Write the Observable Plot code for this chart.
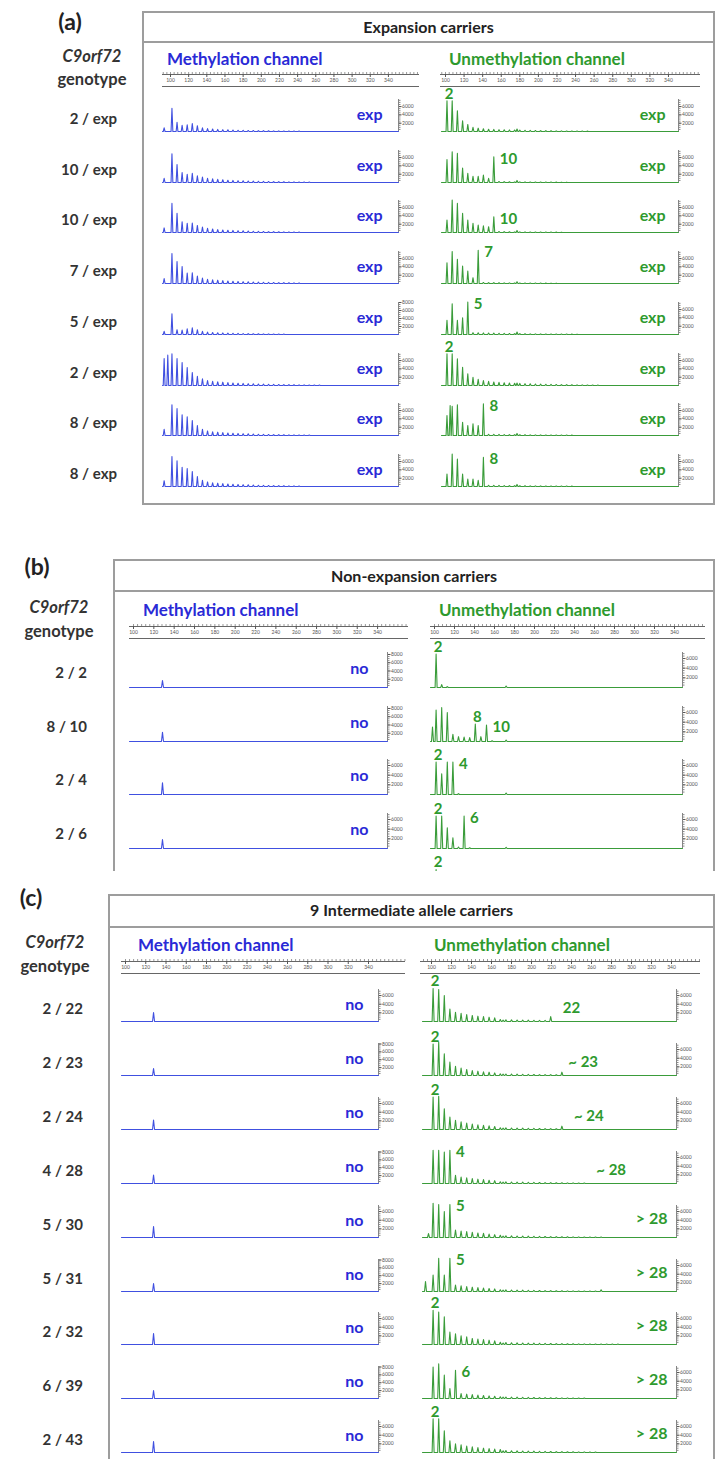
<!DOCTYPE html>
<html><head><meta charset="utf-8">
<script src="https://cdn.jsdelivr.net/npm/d3@7"></script>
<script src="https://cdn.jsdelivr.net/npm/@observablehq/plot@0.6"></script>
<style>
body{margin:0;background:#fff;}
#page{position:relative;width:717px;height:1459px;overflow:hidden;background:#fff;font-family:Lato,"Open Sans",sans-serif;}
.abs{position:absolute;white-space:nowrap;line-height:1;}
.pnl{position:absolute;left:0;width:717px;overflow:hidden;}
</style></head><body><div id="page"></div>
<script>
// ---------- shared categories / ticks ----------
const repeatBp = [101.6,107.2,112.8,118.4,124.0,129.6,135.2,140.8,146.4,152.0,157.6,163.2,168.8,174.4,180.0,185.6,191.2,196.8,202.4,208.0,213.6,219.2,224.8,230.4,236.0,241.6,247.2,252.8,258.4,264.0,269.6,275.2,280.8,286.4,292.0,297.6,303.2,308.8,314.4,320.0,325.6,331.2,336.8,342.4,348.0];
const rulerTicks = [100,120,140,160,180,200,220,240,260,280,300,320,340];
const yTicks3 = [2000,4000,6000];
const yTicks4 = [2000,4000,6000,8000];

// ---------- panel (a) ----------
const genotypesA = ["2 / exp","10 / exp","10 / exp","7 / exp","5 / exp","2 / exp","8 / exp","8 / exp"];
const methA = [
 [5600,2200,1500,1600,1900,1400,900,700,600,500,450,400,350,300,300,250,250,200,200,180,160,150,130,120,100,100],
 [6900,4300,2400,2000,2200,1600,1300,1000,900,750,650,550,500,450,400,350,320,300,280,250,230,200,180,160,150,130,120,100],
 [7000,4600,2600,2200,2300,1700,1300,1000,850,700,600,550,500,450,400,350,300,280,250,230,200,180,160,150,130,120],
 [7200,5300,4100,2500,2600,1800,1300,1000,900,800,700,600,550,500,450,400,350,320,300,280,250,220,200,180,160,150],
 [5200,1200,1100,1400,1700,1200,800,600,500,450,400,350,300,280,250,230,200,180,160,150,130,120,100],
 [7600,6500,5500,4300,3100,2200,1600,1200,1000,900,800,700,600,550,500,450,400,350,320,300,280,250,220,200,180,160,150,130,120,100],
 [7400,6500,5000,4500,3600,2400,1500,1100,900,800,700,600,550,500,450,400,350,300,280,250,230,200,180,160,150,130,120,100],
 [7200,6200,4600,4300,3600,2400,1500,1100,900,800,700,600,550,500,450,400,350,300,280,250,230,200,180,160,150,130]
];
const methExtraA = [[[93,900]],[[93,1000]],[[93,1100]],[[93,1200]],[[93,800]],[[93,6500],[97,7300]],[[93,1500]],[[93,1400]]];
const methTicksA = [3,3,3,3,4,3,3,3];
const methCallA = ["exp","exp","exp","exp","exp","exp","exp","exp"];
const unmethA = [
 [7400,7400,5000,2600,1700,1000,800,650,550,500,450,400,380,350,320,300,280,250,230,200,180,160,150,130,120,100,100,90],
 [5500,7400,7000,3500,2200,1500,1500,1800,1000,6200,250,200,180,160,150,140,130,120,110,100,100,90,80,80],
 [3000,7800,7000,4600,3000,2200,1800,1600,1400,3800,250,200,180,160,150,140,130,120,110,100,100,90,80],
 [5000,7700,5800,4200,3000,1400,8000,250,220,200,180,160,150,140,130,120,110,100,100,90,80,80],
 [3400,7400,3400,4000,7800,450,400,380,350,320,300,280,250,230,200,180,160,150,140,130,120,110,100,100,90,80],
 [7600,7600,6400,4400,2800,2000,1500,1200,1000,850,750,650,600,550,500,450,400,350,320,300,280,250,220,200,180,160,150,130,120,100],
 [4800,7000,7400,3200,2400,2800,2400,7600,300,280,260,240,220,200,180,170,160,150,140,130,120,110,100,100,90],
 [3000,7800,6600,3000,1800,1800,1500,7000,300,280,260,240,220,200,180,170,160,150,140,130,120,110,100,100,90]
];
const unmethExtraA = [[[177,600]],[[177,500]],[[177,500]],[[177,450]],[[177,600]],[[177,600]],[[105,7200],[177,500]],[[177,500]]];
const unmethTicksA = [3,3,3,3,3,3,3,3];
const unmethCallA = ["exp","exp","exp","exp","exp","exp","exp","exp"];
const unmethLabelsA = [
 [{t:"2",n:1,s:"top"}],
 [{t:"10",n:10,s:"side"}],
 [{t:"10",n:10,s:"side"}],
 [{t:"7",n:7,s:"side"}],
 [{t:"5",n:5,s:"side"}],
 [{t:"2",n:1,s:"top"}],
 [{t:"8",n:8,s:"side"}],
 [{t:"8",n:8,s:"side"}]
];

// ---------- panel (b) ----------
const genotypesB = ["2 / 2","8 / 10","2 / 4","2 / 6"];
const methB = [[],[],[],[]];
const methExtraB = [[[128.5,1700]],[[128.5,2200]],[[128.5,2400]],[[128.5,1860]]];
const methTicksB = [4,4,3,3];
const methCallB = ["no","no","no","no"];
const unmethB = [
 [6900,600,200],
 [6500,7000,6000,1500,1000,900,800,3600,1000,3400,150],
 [6700,4300,6700,6700,200],
 [6700,6700,4300,2200,300,6700,150],
 [6800]
];
const unmethExtraB = [[[171.6,300]],[[98,3000],[171.6,300]],[[171.6,300]],[[171.6,250]],[]];
const unmethTicksB = [3,3,3,3,0];
const unmethCallB = [null,null,null,null,null];
const unmethLabelsB = [
 [{t:"2",n:1,s:"top"}],
 [{t:"8",n:8,s:"top"},{t:"10",n:10,s:"side"}],
 [{t:"2",n:1,s:"top"},{t:"4",n:4,s:"side"}],
 [{t:"2",n:1,s:"top"},{t:"6",n:6,s:"side"}],
 [{t:"2",n:1,s:"top"}]
];

// ---------- panel (c) ----------
const genotypesC = ["2 / 22","2 / 23","2 / 24","4 / 28","5 / 30","5 / 31","2 / 32","6 / 39","2 / 43"];
const methC = [[],[],[],[],[],[],[],[],[]];
const methExtraC = [[[127.7,2070]],[[127.7,1780]],[[127.7,2200]],[[127.7,2160]],[[127.7,2530]],[[127.7,2030]],[[127.7,2530]],[[127.7,2030]],[[127.7,2530]]];
const methTicksC = [3,4,3,4,3,4,3,4,3];
const methCallC = ["no","no","no","no","no","no","no","no","no"];
const unmethC = [
 [7600,7400,6000,2900,2150,1900,1600,1400,1230,1150,1000,850,450,400,380,350,320,300,280,260,250,1150],
 [7300,7700,5000,3100,2100,1700,1400,1150,1000,850,770,600,380,350,330,300,280,260,240,220,200,200,180,770],
 [7500,7700,4800,2900,2150,1800,1500,1250,1100,950,850,700,400,380,350,320,300,280,260,240,220,200,180,770],
 [7700,7700,7300,7700,1900,1500,1300,1150,1000,900,750,650,400,380,350,320,300,280,260,240,220,200,180,160,150,140,130,120],
 [7900,7600,6000,7600,1700,1500,1350,1200,1050,950,800,650,500,400,380,350,320,300,280,260,240,220,200,180,160,150,140,130,120,110,100],
 [3800,7700,3800,7700,1500,1300,1150,1000,900,800,700,600,400,380,350,320,300,280,260,240,220,200,180,160,150,140,130,120,110,100,400],
 [7900,7500,6400,2900,2500,2000,1800,1400,1250,1150,1000,850,500,450,400,380,350,320,300,280,260,240,220,200,180,160,150,140,130,120,110,100,100,90],
 [7300,8000,5400,2300,6500,1150,1000,900,800,700,600,500,400,350,320,300,280,260,240,220,200,180,160,150,140,130,120,110],
 [7800,7800,5000,2700,2000,1800,1500,1300,1150,1000,900,800,700,450,400,380,350,320,300,280,260,240,220,200,180,160,150,140,130,120]
];
const unmethExtraC = [[[171.6,300]],[[171.6,300]],[[171.6,300]],[[171.6,300]],[[97,900],[171.6,300]],[[94,2300],[171.6,300]],[[171.6,350]],[[171.6,300]],[[171.6,400]]];
const unmethTicksC = [3,3,3,3,3,3,3,3,3];
const unmethCallC = [null,null,null,null,"> 28","> 28","> 28","> 28","> 28"];
const unmethLabelsC = [
 [{t:"2",n:1,s:"top"},{t:"22",n:22,s:"size"}],
 [{t:"2",n:1,s:"top"},{t:"~ 23",n:23,s:"size"}],
 [{t:"2",n:1,s:"top"},{t:"~ 24",n:24,s:"size"}],
 [{t:"4",n:4,s:"side"},{t:"~ 28",n:28,s:"size"}],
 [{t:"5",n:4,s:"side"}],
 [{t:"5",n:4,s:"side"}],
 [{t:"2",n:1,s:"top"}],
 [{t:"6",n:5,s:"side"}],
 [{t:"2",n:1,s:"top"}]
];

// ---------- styling / layout ----------
const BLUE_T = "#2a2ad6", BLUE_L = "#4050e0", GREEN_T = "#2e9a2e", GREEN_L = "#3a9c3a";
const FONT = "Lato, 'Open Sans', sans-serif";
const rulerMinor = d3.range(92, 380, 4);

const panels = [
 {label:"(a)", labelX:70, labelY:22, top:0, height:530,
  box:{left:142, top:11, right:715, bottom:505, open:false}, divider:42,
  header:"Expansion carriers", headerY:27,
  genoX:92, genoY1:57, genoY2:80, rowRight:117, rowDy:-12, base0:131, step:50.7,
  titleY:59, rulerY:74, genotypes: genotypesA,
  meth:{titleX:167, x100:170, k:0.908, x0:162, x1:398, r0:162, r1:419, H:32, ymax3:7700, ymax4:8000, callDx:-16, callDy:-12,
        heights:methA, extra:methExtraA, ticks:methTicksA, calls:methCallA, labels:null},
  unmeth:{titleX:449, x100:445, k:0.929, x0:441, x1:678, r0:440, r1:700, H:32, ymax3:7700, ymax4:8000, callDx:-13, callDy:-12,
        heights:unmethA, extra:unmethExtraA, ticks:unmethTicksA, calls:unmethCallA, labels:unmethLabelsA}},
 {label:"(b)", labelX:37, labelY:567, top:540, height:331,
  box:{left:113, top:559, right:715, bottom:920, open:true}, divider:591,
  header:"Non-expansion carriers", headerY:576,
  genoX:59, genoY1:608, genoY2:632, rowRight:87, rowDy:-14, base0:687, step:53.7,
  titleY:610, rulerY:626, genotypes: genotypesB,
  meth:{titleX:143, x100:133, k:1.017, x0:129, x1:387, r0:129, r1:408, H:35, ymax3:7240, ymax4:8480, callDx:-19, callDy:-14,
        heights:methB, extra:methExtraB, ticks:methTicksB, calls:methCallB, labels:null},
  unmeth:{titleX:439, x100:434, k:1.0, x0:430, x1:682, r0:430, r1:705, H:35, ymax3:7240, ymax4:8480, callDx:-13, callDy:-14,
        heights:unmethB, extra:unmethExtraB, ticks:unmethTicksB, calls:unmethCallB, labels:unmethLabelsB}},
 {label:"(c)", labelX:31, labelY:898, top:876, height:583,
  box:{left:108, top:894, right:715, bottom:1520, open:true}, divider:927,
  header:"9 Intermediate allele carriers", headerY:910,
  genoX:55, genoY1:943, genoY2:967, rowRight:83, rowDy:-12, base0:1021, step:53.9,
  titleY:945, rulerY:961, genotypes: genotypesC,
  meth:{titleX:138, x100:125, k:1.0125, x0:121, x1:378, r0:121, r1:405, H:32, ymax3:7400, ymax4:8130, callDx:-15, callDy:-12,
        heights:methC, extra:methExtraC, ticks:methTicksC, calls:methCallC, labels:null},
  unmeth:{titleX:434, x100:431, k:1.0, x0:422, x1:676, r0:420, r1:700, H:32, ymax3:7400, ymax4:8130, callDx:-9, callDy:-14,
        heights:unmethC, extra:unmethExtraC, ticks:unmethTicksC, calls:unmethCallC, labels:unmethLabelsC}}
];

const page = document.getElementById("page");

function txt(parent, s, x, y, o) {
  const d = document.createElement("div");
  d.className = "abs";
  d.textContent = s;
  const tx = o.anchor === "end" ? "-100%" : o.anchor === "start" ? "0" : "-50%";
  Object.assign(d.style, {left: x + "px", top: y + "px", fontSize: o.size + "px",
    fontWeight: o.weight || "bold", color: o.color || "#333", fontStyle: o.italic ? "italic" : "normal",
    fontFamily: FONT, transform: `translate(${tx},-52%)`});
  parent.appendChild(d);
}
function rect(parent, l, t, w, h, css) {
  const d = document.createElement("div");
  Object.assign(d.style, {position: "absolute", left: l + "px", top: t + "px", width: w + "px", height: h + "px", boxSizing: "border-box"}, css);
  parent.appendChild(d);
}
function placeSvg(parent, svg, l, t, w, h) {
  const d = document.createElement("div");
  Object.assign(d.style, {position: "absolute", left: l + "px", top: t + "px", width: w + "px", height: h + "px"});
  d.appendChild(svg);
  parent.appendChild(d);
}
const svgStyle = {maxWidth: "none", background: "transparent", overflow: "visible", fontFamily: FONT};

function drawRuler(host, cfg, yTop) {
  const bp = px => 100 + (px - cfg.x100) / cfg.k;
  const r0 = bp(cfg.r0), r1 = bp(cfg.r1);
  const width = Math.round(cfg.r1 - cfg.r0);
  const svg = Plot.plot({
    width, height: 17, marginTop: 1, marginBottom: 14, marginLeft: 0, marginRight: 0,
    x: {domain: [r0, r1]},
    y: {domain: [0, 1], axis: null},
    style: svgStyle,
    marks: [
      Plot.tickX(rulerMinor.filter(v => v > r0 && v < r1), {x: d => d, stroke: "#555", strokeWidth: 0.6}),
      Plot.ruleY([0], {stroke: "#555", strokeWidth: 0.9}),
      Plot.axisX({anchor: "bottom", ticks: rulerTicks, tickSize: 3, tickPadding: 1, fontSize: 5, stroke: "#555", fill: "#555", label: null}),
      Plot.ruleY([0], {dy: 12, stroke: "#555", strokeWidth: 0.9})
    ]
  });
  placeSvg(host, svg, cfg.r0, yTop - 3, width, 17);
}

function drawTrace(host, cfg, i, base, color, textColor) {
  const heights = cfg.heights[i], extra = cfg.extra[i];
  const bp = px => 100 + (px - cfg.x100) / cfg.k;
  const d0 = bp(cfg.x0), d1 = bp(cfg.x1);
  const mt = 24, mb = 3, ml = 2, mr = 22;
  const width = Math.round(cfg.x1 - cfg.x0) + ml + mr;
  const height = cfg.H + mt + mb;
  const nt = cfg.ticks[i];
  const ymax = nt === 4 ? cfg.ymax4 : cfg.ymax3;
  const peaks = heights.map((h, j) => ({bp: repeatBp[j], h}))
    .concat(extra.map(([b, h]) => ({bp: b, h})))
    .filter(p => p.bp > d0 + 1 && p.bp < d1 - 1)
    .sort((a, b) => a.bp - b.bp);
  const w = 1;
  const pts = [{x: d0, y: 0}];
  peaks.forEach(p => pts.push({x: p.bp - w, y: 0}, {x: p.bp, y: p.h}, {x: p.bp + w, y: 0}));
  pts.push({x: d1, y: 0});
  const labs = ((cfg.labels && cfg.labels[i]) || []).map(l => ({...l, x: repeatBp[l.n - 1], y: l.s === "size" ? 0 : heights[l.n - 1]}));
  const ts = {fill: textColor, fontSize: 15, fontWeight: "bold", fontFamily: FONT};
  const call = cfg.calls[i];
  const marks = [];
  if (nt > 0) {
    marks.push(
      Plot.ruleX([d1], {y1: 0, y2: ymax, stroke: "#666", strokeWidth: 0.8}),
      Plot.axisY({anchor: "right", ticks: d3.range(500, ymax, 500), tickSize: 1.5, tickFormat: () => "", stroke: "#888", label: null}),
      Plot.axisY({anchor: "right", ticks: nt === 4 ? yTicks4 : yTicks3, tickSize: 2.5, tickPadding: 1, fontSize: 5, tickFormat: v => String(v), fill: "#555", stroke: "#555", label: null})
    );
  }
  marks.push(
    Plot.line(pts, {x: "x", y: "y", stroke: color, strokeWidth: 1.1}),
    Plot.text(labs.filter(l => l.s === "top"), {x: "x", y: "y", text: "t", dx: 2, dy: -7, textAnchor: "middle", ...ts}),
    Plot.text(labs.filter(l => l.s === "side"), {x: "x", y: "y", text: "t", dx: 6, dy: 2, textAnchor: "start", ...ts}),
    Plot.text(labs.filter(l => l.s === "size"), {x: "x", y: "y", text: "t", dx: 12, dy: -13, textAnchor: "start", ...ts})
  );
  if (call) marks.push(Plot.text([call], {frameAnchor: "bottom-right", text: s => s, dx: cfg.callDx, dy: cfg.callDy, textAnchor: "end", fill: textColor, fontSize: 16, fontWeight: "bold", fontFamily: FONT}));
  const svg = Plot.plot({
    width, height, marginTop: mt, marginBottom: mb, marginLeft: ml, marginRight: mr,
    x: {domain: [d0, d1], axis: null},
    y: {domain: [0, ymax], axis: nt > 0 ? undefined : null},
    style: svgStyle,
    marks
  });
  placeSvg(host, svg, cfg.x0 - ml, base - cfg.H - mt, width, height);
}

for (const P of panels) {
  const host = document.createElement("div");
  host.className = "pnl";
  host.style.top = P.top + "px";
  host.style.height = P.height + "px";
  page.appendChild(host);
  const Y = y => y - P.top;
  txt(host, P.label, P.labelX, Y(P.labelY), {size: 23, color: "#222"});
  const b = P.box;
  rect(host, b.left, Y(b.top), b.right - b.left, b.bottom - b.top,
       {border: "2px solid #9d9d9d", borderBottom: b.open ? "none" : "2px solid #9d9d9d"});
  rect(host, b.left, Y(P.divider) - 1, b.right - b.left, 2, {background: "#9d9d9d"});
  txt(host, P.header, (b.left + b.right) / 2, Y(P.headerY), {size: 16, color: "#222"});
  txt(host, "C9orf72", P.genoX, Y(P.genoY1), {size: 16.5, italic: true, color: "#333"});
  txt(host, "genotype", P.genoX, Y(P.genoY2), {size: 16.5, color: "#333"});
  txt(host, "Methylation channel", P.meth.titleX, Y(P.titleY), {size: 17, color: BLUE_T, anchor: "start"});
  txt(host, "Unmethylation channel", P.unmeth.titleX, Y(P.titleY), {size: 17, color: GREEN_T, anchor: "start"});
  drawRuler(host, P.meth, Y(P.rulerY));
  drawRuler(host, P.unmeth, Y(P.rulerY));
  P.genotypes.forEach((g, i) => {
    const base = P.base0 + i * P.step;
    txt(host, g, P.rowRight, Y(base + P.rowDy), {size: 15, color: "#333", anchor: "end"});
  });
  P.meth.heights.forEach((_, i) => drawTrace(host, P.meth, i, Y(P.base0 + i * P.step), BLUE_L, BLUE_T));
  P.unmeth.heights.forEach((_, i) => drawTrace(host, P.unmeth, i, Y(P.base0 + i * P.step), GREEN_L, GREEN_T));
}
</script></body></html>
